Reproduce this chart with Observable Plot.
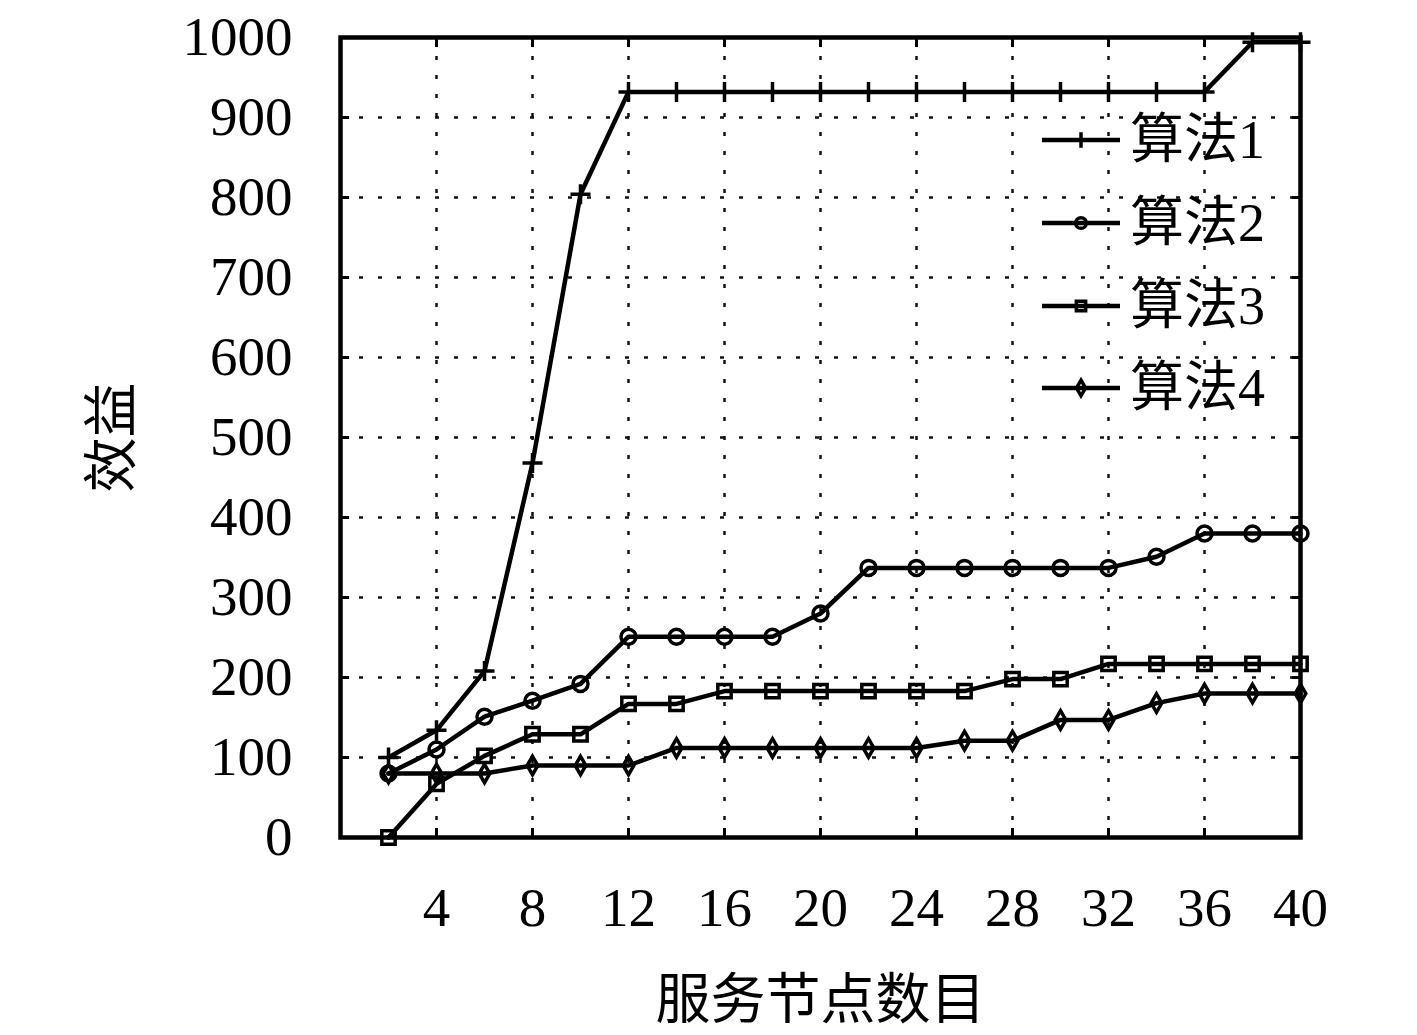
<!DOCTYPE html>
<html>
<head>
<meta charset="utf-8">
<script src="https://cdn.jsdelivr.net/npm/d3@7"></script>
<script src="https://cdn.jsdelivr.net/npm/@observablehq/plot@0.6"></script>
<style>
  html, body { margin: 0; padding: 0; background: #ffffff; }
  #wrap { position: relative; width: 1417px; height: 1035px; }
  #legend { position: absolute; left: 1042px; top: 99px; font-family: "Liberation Serif", "Noto Sans CJK SC", serif; font-size: 54px; color: #000; }
  .row { display: flex; align-items: center; height: 82.7px; }
  .row span { margin-left: 8px; line-height: 1; }
</style>
</head>
<body>
<div id="wrap"><div id="legend"></div></div>
<script>
const nodes = [2, 4, 6, 8, 10, 12, 14, 16, 18, 20, 22, 24, 26, 28, 30, 32, 34, 36, 38, 40];
const algo1 = [100, 134, 208, 468, 804, 932, 932, 932, 932, 932, 932, 932, 932, 932, 932, 932, 932, 932, 994, 994];
const algo2 = [80, 110, 151, 171, 192, 251, 251, 251, 251, 280, 337, 337, 337, 337, 337, 337, 351, 380, 380, 380];
const algo3 = [0, 67, 102, 129, 129, 167, 167, 183, 183, 183, 183, 183, 183, 198, 198, 217, 217, 217, 217, 217];
const algo4 = [80, 80, 80, 90, 90, 90, 112, 112, 112, 112, 112, 112, 121, 121, 147, 147, 168, 180, 180, 180];
const seriesNames = ["算法1", "算法2", "算法3", "算法4"];
const seriesValues = [algo1, algo2, algo3, algo4];
const symbols = ["plus", "circle", "square2", "diamond"];
const symbolR = [6.5, 7.5, 8.5, 5.6];
const xTicks = [4, 8, 12, 16, 20, 24, 28, 32, 36, 40];
const yTicks = [0, 100, 200, 300, 400, 500, 600, 700, 800, 900, 1000];
const xLabel = "服务节点数目";
const yLabel = "效益";

const rows = [];
seriesValues.forEach((vals, i) => vals.forEach((v, j) => rows.push({s: seriesNames[i], x: nodes[j], y: v})));

const dotMarks = seriesNames.map((name, i) =>
  Plot.dot(rows.filter(d => d.s === name), {x: "x", y: "y", symbol: () => symbols[i], r: symbolR[i], stroke: "black", fill: "none", strokeWidth: 3.5})
);

const grid = {stroke: "#111", strokeOpacity: 1, strokeWidth: 2.5, strokeDasharray: "4,15"};
const tickOpts = {tickFormat: () => "", label: null, strokeWidth: 3, tickSize: 9};

const chart = Plot.plot({
  width: 1417,
  height: 1035,
  marginLeft: 340,
  marginRight: 117,
  marginTop: 37,
  marginBottom: 198,
  style: {fontFamily: "'Liberation Serif', 'Noto Sans CJK SC', serif", fontSize: "55px", background: "transparent", color: "black"},
  x: {domain: [0, 40]},
  y: {domain: [0, 1000]},
  marks: [
    Plot.gridX(xTicks, grid),
    Plot.gridY(yTicks, grid),
    Plot.lineY(rows, {x: "x", y: "y", z: "s", stroke: "black", strokeWidth: 4.5}),
    ...dotMarks,
    Plot.axisX({ticks: xTicks, tickSize: 0, tickPadding: 49, tickFormat: d => String(d), label: xLabel, labelAnchor: "center", labelArrow: "none", labelOffset: 180}),
    Plot.axisY({ticks: yTicks, tickSize: 0, tickPadding: 48, tickFormat: d => String(d), label: yLabel, labelAnchor: "center", labelArrow: "none", labelOffset: 250}),
    Plot.axisX({...tickOpts, ticks: xTicks, anchor: "bottom", dy: -9}),
    Plot.axisX({...tickOpts, ticks: xTicks, anchor: "top", dy: 9}),
    Plot.axisY({...tickOpts, ticks: yTicks, anchor: "left", dx: 9}),
    Plot.axisY({...tickOpts, ticks: yTicks, anchor: "right", dx: -9}),
    Plot.frame({stroke: "black", strokeWidth: 4.5})
  ]
});
document.getElementById("wrap").prepend(chart);

const legend = d3.select("#legend");
const symMap = {plus: d3.symbolPlus, circle: d3.symbolCircle, square2: d3.symbolSquare2, diamond: d3.symbolDiamond};
const legendSize = [80, 90, 110, 70];
seriesNames.forEach((name, i) => {
  const row = legend.append("div").attr("class", "row");
  const svg = row.append("svg").attr("width", 80).attr("height", 40);
  svg.append("line").attr("x1", 0).attr("x2", 78).attr("y1", 20).attr("y2", 20).attr("stroke", "black").attr("stroke-width", 4.5);
  svg.append("path").attr("transform", "translate(39,20)")
    .attr("d", d3.symbol(symMap[symbols[i]], legendSize[i])())
    .attr("fill", "none").attr("stroke", "black").attr("stroke-width", 3.5);
  row.append("span").text(name);
});
</script>
</body>
</html>
